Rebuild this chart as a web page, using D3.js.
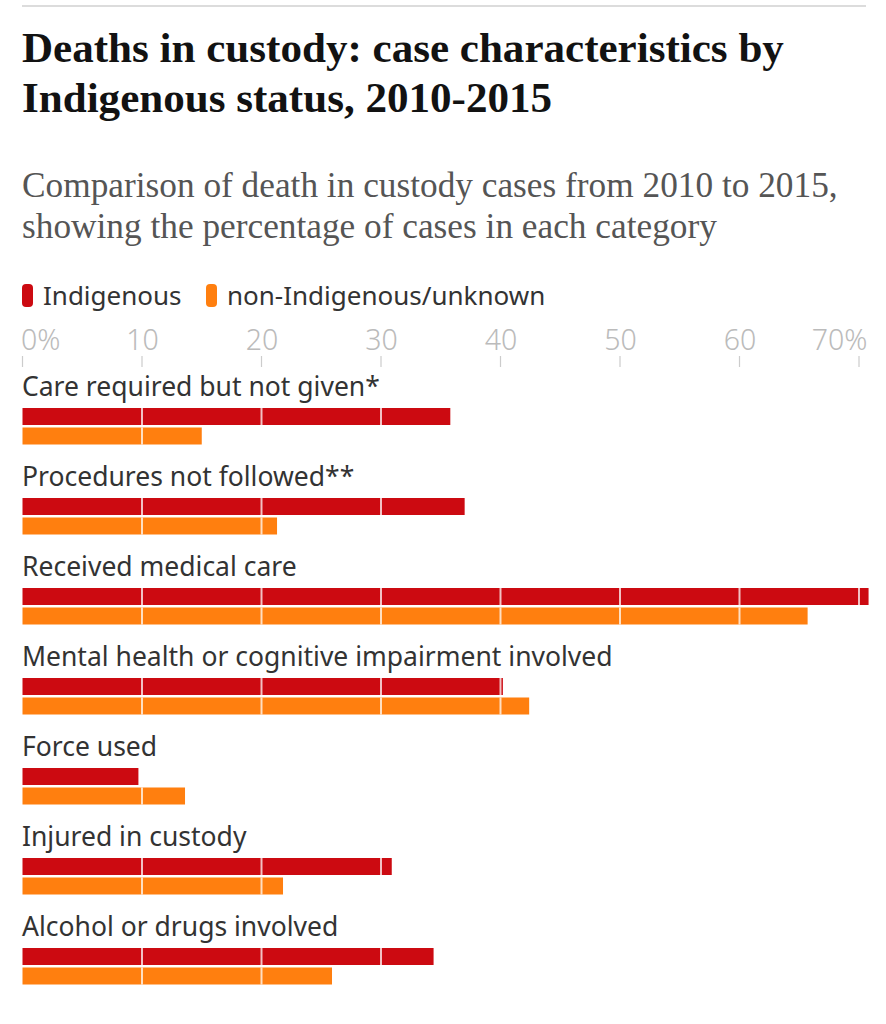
<!DOCTYPE html>
<html><head><meta charset="utf-8">
<script src="https://cdn.jsdelivr.net/npm/d3@7/dist/d3.min.js"></script>
<style>
html,body{margin:0;padding:0;background:#fff;}
svg{display:block;}
</style></head>
<body>
<svg id="chart" width="886" height="1024"></svg>
<script>
const title = ["Deaths in custody: case characteristics by", "Indigenous status, 2010-2015"];
const subtitle = ["Comparison of death in custody cases from 2010 to 2015,", "showing the percentage of cases in each category"];
const seriesNames = ["Indigenous", "non-Indigenous/unknown"];
const categories = [
  "Care required but not given*",
  "Procedures not followed**",
  "Received medical care",
  "Mental health or cognitive impairment involved",
  "Force used",
  "Injured in custody",
  "Alcohol or drugs involved"
];
const indigenous = [35.8, 37.0, 70.8, 40.2, 9.7, 30.9, 34.4];
const nonIndigenous = [15.0, 21.3, 65.7, 42.4, 13.6, 21.8, 25.9];
const tickValues = [0, 10, 20, 30, 40, 50, 60, 70];
const tickLabels = ["0%", "10", "20", "30", "40", "50", "60", "70%"];
const colors = ["#cc0a11", "#ff7f0f"];

const svg = d3.select("#chart");
const left = 22.5;
const x = d3.scaleLinear().domain([0, 70]).range([left, 859]);

// top rule
svg.append("line").attr("x1", 22).attr("x2", 866).attr("y1", 6).attr("y2", 6)
  .attr("stroke", "#dcdcdc").attr("stroke-width", 2);

function fitText(sel, target) {
  const node = sel.node();
  let fs = parseFloat(sel.attr("font-size"));
  const w = node.getComputedTextLength();
  sel.attr("font-size", (fs * target / w).toFixed(2));
}

// title
const t1 = svg.append("text").attr("x", 22).attr("y", 62)
  .attr("font-family", "Liberation Serif, serif").attr("font-weight", "bold")
  .attr("font-size", 36).attr("fill", "#121212").text(title[0]);
fitText(t1, 762);
const tfs = t1.attr("font-size");
svg.append("text").attr("x", 22).attr("y", 112)
  .attr("font-family", "Liberation Serif, serif").attr("font-weight", "bold")
  .attr("font-size", tfs).attr("fill", "#121212").text(title[1]);

// subtitle
const s1 = svg.append("text").attr("x", 22).attr("y", 197)
  .attr("font-family", "Liberation Serif, serif")
  .attr("font-size", 27).attr("fill", "#555").text(subtitle[0]);
fitText(s1, 816);
const sfs = s1.attr("font-size");
svg.append("text").attr("x", 22).attr("y", 238)
  .attr("font-family", "Liberation Serif, serif")
  .attr("font-size", sfs).attr("fill", "#555").text(subtitle[1]);

// legend
const sans = "Noto Sans, Open Sans, sans-serif";
const legX = [22, 206];
seriesNames.forEach((n, i) => {
  svg.append("rect").attr("x", legX[i]).attr("y", 284).attr("width", 11).attr("height", 23)
    .attr("rx", 4).attr("fill", colors[i]);
  svg.append("text").attr("x", legX[i] + 21).attr("y", 305)
    .attr("font-family", sans).attr("font-size", 26).attr("fill", "#333").text(n);
});

// axis
const axis = d3.axisTop(x).tickValues(tickValues).tickFormat((d, i) => tickLabels[i]).tickSize(0);
const ag = svg.append("g").attr("transform", "translate(0,350)").call(axis);
ag.select(".domain").remove();
ag.selectAll("text").attr("font-family", sans).attr("font-weight", 300).attr("font-size", 28.5).attr("fill", "#bbb")
  .attr("dy", 0).attr("y", 0);
ag.selectAll("text").filter((d, i) => i === 0).attr("text-anchor", "start").attr("dx", -2);
ag.selectAll("text").filter((d, i) => i === tickValues.length - 1).attr("text-anchor", "end").attr("dx", 8);
svg.append("g").selectAll("line").data(tickValues).join("line")
  .attr("x1", d => x(d)).attr("x2", d => x(d)).attr("y1", 356).attr("y2", 367)
  .attr("stroke", "#ccc").attr("stroke-width", 1.2);

// groups
const groupY = d3.scaleLinear().domain([0, 1]).range([396, 486]);
const barH = 17, gap = 2.5;
const groups = svg.append("g").selectAll("g").data(categories).join("g")
  .attr("transform", (d, i) => `translate(0,${groupY(i)})`);
groups.append("text").attr("x", 22).attr("y", 0)
  .attr("font-family", sans).attr("font-size", 26.5).attr("fill", "#333").text(d => d);

const seriesVals = [indigenous, nonIndigenous];
seriesVals.forEach((vals, s) => {
  const yOff = 12 + s * (barH + gap);
  groups.append("rect").attr("x", x(0)).attr("y", yOff)
    .attr("width", (d, i) => x(vals[i]) - x(0)).attr("height", barH).attr("fill", colors[s]);
  groups.each(function(d, i) {
    d3.select(this).selectAll(null).data(tickValues.filter(t => t > 0 && x(t) < x(vals[i]) - 1)).join("line")
      .attr("x1", t => x(t)).attr("x2", t => x(t)).attr("y1", yOff).attr("y2", yOff + barH)
      .attr("stroke", "#fff").attr("stroke-opacity", 0.75).attr("stroke-width", 2);
  });
});
</script>
</body></html>
